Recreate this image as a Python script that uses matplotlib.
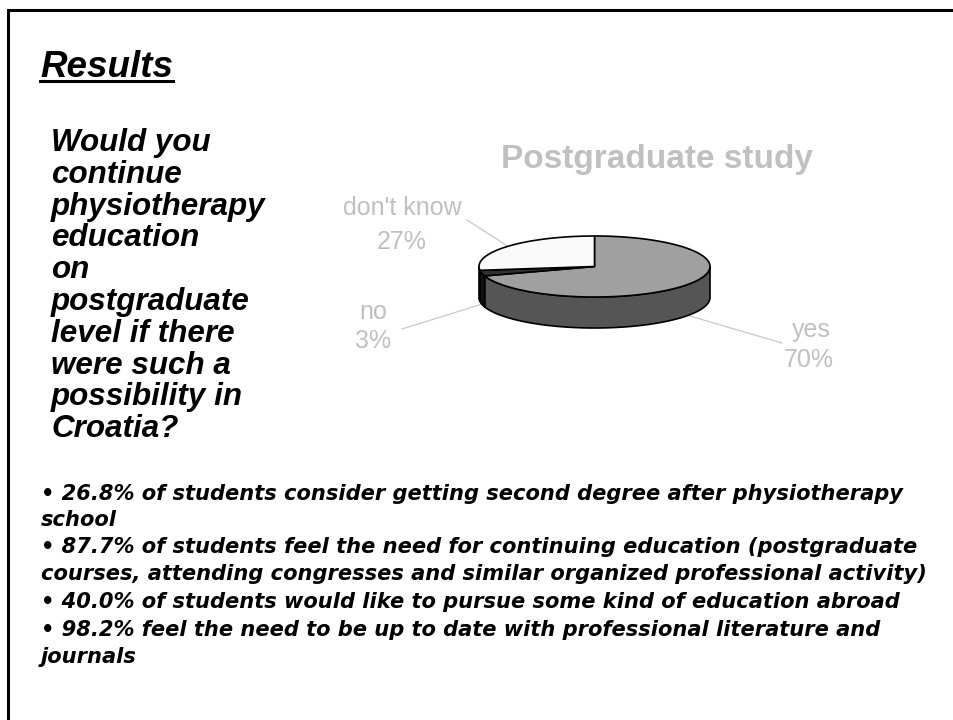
import numpy as np
import matplotlib
matplotlib.use("Agg")
import matplotlib.pyplot as plt
from matplotlib.patches import Polygon

# data
labels = ["yes", "no", "don't know"]
values = [70, 3, 27]
top_colors = ["#a0a0a0", "#303030", "#fafafa"]
side_colors = ["#555555", "#111111", "#cccccc"]

chart_title = "Postgraduate study"
question = ["Would you", "continue", "physiotherapy", "education", "on",
            "postgraduate", "level if there", "were such a",
            "possibility in", "Croatia?"]
bullets = [
    "\u2022 26.8% of students consider getting second degree after physiotherapy",
    "school",
    "\u2022 87.7% of students feel the need for continuing education (postgraduate",
    "courses, attending congresses and similar organized professional activity)",
    "\u2022 40.0% of students would like to pursue some kind of education abroad",
    "\u2022 98.2% feel the need to be up to date with professional literature and",
    "journals",
]
bullet_y = [500, 526, 553, 580, 608, 636, 663]

# label layout (pixels): name pos, pct pos, leader start
label_pos = {"yes": ((811, 330), (809, 360), (782, 343)),
             "no": ((373, 312), (373, 341), (402, 329)),
             "don't know": ((402, 208), (402, 242), (467, 220))}

fig = plt.figure(figsize=(9.54, 7.2), dpi=100)
ax = fig.add_axes([0, 0, 1, 1])
ax.set_xlim(0, 954)
ax.set_ylim(720, 0)
ax.axis("off")

# slide frame
ax.plot([8, 8, 954], [720, 9.5, 9.5], color="black", lw=2.2, solid_joinstyle="miter")

# heading
t = ax.text(40, 77, "Results", fontsize=26.5, fontweight="bold", fontstyle="italic",
            family="Liberation Sans", va="baseline")
fig.canvas.draw()
bb = t.get_window_extent().transformed(ax.transData.inverted())
ax.plot([bb.x0, bb.x1], [80.5, 80.5], color="black", lw=2.2)

# question on the left
for i, line in enumerate(question):
    ax.text(51, 151 + i * 31.8, line, fontsize=22.6, fontweight="bold",
            fontstyle="italic", family="Liberation Sans", va="baseline")

# bullets at the bottom
for y, line in zip(bullet_y, bullets):
    ax.text(41, y, line, fontsize=15.1, fontweight="bold", fontstyle="italic",
            family="DejaVu Sans", va="baseline")

# 3D pie
cx, cy, rx, ry, depth = 594.5, 266.5, 115.5, 30.5, 31


def pt(a):
    r = np.radians(a)
    return cx + rx * np.cos(r), cy - ry * np.sin(r)


spans = []
start = 90.0
for v in values:
    end = start - 360.0 * v / sum(values)
    spans.append((end, start))
    start = end

# side walls (front half only)
for (lo, hi), sc in zip(spans, side_colors):
    for k in (-360, 0, 360):
        a0, a1 = max(lo, 180 + k), min(hi, 360 + k)
        if a1 <= a0:
            continue
        a = np.linspace(a0, a1, 60)
        xs, ys = pt(a)
        poly = np.vstack([np.column_stack([xs, ys]),
                          np.column_stack([xs[::-1], ys[::-1] + depth])])
        ax.add_patch(Polygon(poly, closed=True, facecolor=sc,
                             edgecolor="black", lw=1.2, joinstyle="round"))

# tops
for (lo, hi), tc in zip(spans, top_colors):
    a = np.linspace(lo, hi, 120)
    xs, ys = pt(a)
    poly = np.vstack([[cx, cy], np.column_stack([xs, ys])])
    ax.add_patch(Polygon(poly, closed=True, facecolor=tc, edgecolor="black",
                         lw=1.2, joinstyle="round"))

# labels and leader lines
lab_color = "#c0c0c0"
for lab, v, (lo, hi) in zip(labels, values, spans):
    mid = (lo + hi) / 2
    x, y = pt(mid)
    if np.sin(np.radians(mid)) < 0:
        y += depth
    npos, ppos, lpos = label_pos[lab]
    ax.plot([lpos[0], x], [lpos[1], y], color="#c8c8c8", lw=0.9, zorder=0)
    ax.text(npos[0], npos[1], lab, fontsize=18, color=lab_color,
            family="Liberation Sans", ha="center", va="center")
    ax.text(ppos[0], ppos[1], f"{v}%", fontsize=18, color=lab_color,
            family="Liberation Sans", ha="center", va="center")

ax.text(657, 168, chart_title, fontsize=24, fontweight="bold", color=lab_color,
        family="Liberation Sans", ha="center", va="baseline")

fig.savefig("out.png", dpi=100)
